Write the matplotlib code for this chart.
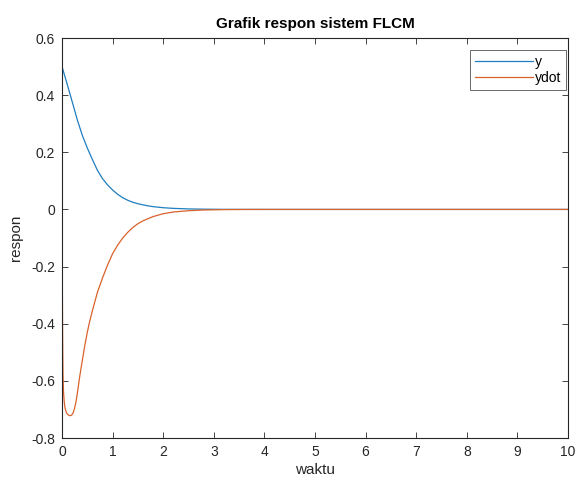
import matplotlib
matplotlib.use("Agg")
import matplotlib.pyplot as plt

plt.rcParams['font.family'] = ['Liberation Sans', 'DejaVu Sans']

# Response y
t_y = [0, 0.1, 0.2, 0.3, 0.4, 0.5, 0.6, 0.7, 0.8, 0.9, 1.0, 1.1, 1.2, 1.3,
       1.4, 1.5, 1.6, 1.7, 1.8, 2.0, 2.2, 2.5, 2.8, 3.2, 3.6, 4, 5, 6, 7, 8,
       9, 10]
y_vals = [0.5, 0.44, 0.378, 0.315, 0.26, 0.215, 0.175, 0.137, 0.108, 0.086,
          0.068, 0.053, 0.041, 0.032, 0.025, 0.02, 0.016, 0.0125, 0.0097,
          0.006, 0.0037, 0.0018, 0.0009, 0.0003, 0.0001, 0, 0, 0, 0, 0, 0, 0]

# Response ydot
t_yd = [0, 0.005, 0.01, 0.015, 0.02, 0.03, 0.045, 0.06, 0.08, 0.1, 0.13,
        0.16, 0.19, 0.22, 0.25, 0.28, 0.31, 0.35, 0.4, 0.45, 0.5, 0.55, 0.6,
        0.7, 0.8, 0.9, 1.0, 1.1, 1.2, 1.3, 1.4, 1.5, 1.6, 1.8, 2.0, 2.2, 2.5,
        2.8, 3.2, 3.6, 4, 5, 6, 7, 8, 9, 10]
ydot_vals = [0, -0.2, -0.38, -0.5, -0.58, -0.64, -0.675, -0.695, -0.708,
             -0.715, -0.72, -0.722, -0.72, -0.712, -0.695, -0.67, -0.635,
             -0.585, -0.53, -0.477, -0.43, -0.39, -0.355, -0.29, -0.24,
             -0.195, -0.155, -0.125, -0.1, -0.08, -0.063, -0.05, -0.04,
             -0.025, -0.015, -0.009, -0.0045, -0.002, -0.0007, -0.0002,
             0, 0, 0, 0, 0, 0, 0]

x_ticks = [0, 1, 2, 3, 4, 5, 6, 7, 8, 9, 10]
y_ticks = [-0.8, -0.6, -0.4, -0.2, 0, 0.2, 0.4, 0.6]
y_tick_labels = ['-0.8', '-0.6', '-0.4', '-0.2', '0', '0.2', '0.4', '0.6']

dark = '#262626'

fig = plt.figure(figsize=(5.79, 4.87), dpi=100, facecolor='white')
ax = fig.add_axes([62/579, 1 - 438/487, (568-62)/579, (438-38)/487])

ax.plot(t_y, y_vals, color='#1F7EC0', lw=0.9, label='y')
ax.plot(t_yd, ydot_vals, color='#D9622B', lw=0.9, label='ydot')

ax.set_xlim(0, 10)
ax.set_ylim(-0.8, 0.6)
ax.set_xticks(x_ticks)
ax.set_xticklabels([str(v) for v in x_ticks])
ax.set_yticks(y_ticks)
ax.set_yticklabels(y_tick_labels)

ax.tick_params(direction='in', length=4, width=0.6, colors=dark,
               labelsize=10, top=True, right=True, pad=5)
for s in ax.spines.values():
    s.set_color(dark)
    s.set_linewidth(0.8)

ax.set_title('Grafik respon sistem FLCM', fontsize=11, fontweight='bold',
             color='black', pad=7)
ax.set_xlabel('waktu', fontsize=11, color=dark, labelpad=3)
ax.set_ylabel('respon', fontsize=11, color=dark, labelpad=6)

leg = ax.legend(loc='upper right', fontsize=10, frameon=True, fancybox=False,
                edgecolor=dark, handlelength=4.2, handletextpad=0.1,
                borderpad=0.35, labelspacing=0.15, borderaxespad=0.0,
                bbox_to_anchor=(566/579, 1 - 50/487),
                bbox_transform=fig.transFigure)
leg.get_frame().set_linewidth(0.6)

fig.savefig('out.png', dpi=100, facecolor='white')
